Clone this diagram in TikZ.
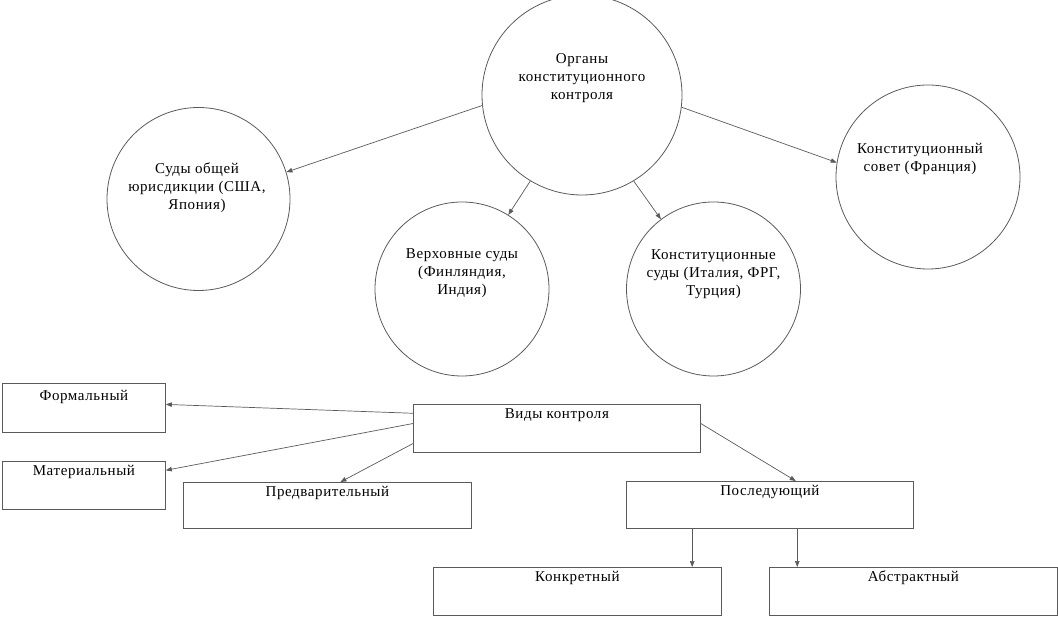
\documentclass[tikz,border=0pt]{standalone}
\usepackage{fontspec}
\setmainfont{Liberation Serif}[LetterSpace=4]
\definecolor{linegray}{RGB}{90,90,90}
\usetikzlibrary{arrows.meta, positioning, calc}

\begin{document}
\begin{tikzpicture}[x=1pt, y=-1pt, >={Triangle[length=6pt,width=4.5pt]},
    every node/.style={font=\fontsize{15}{18}\selectfont},
    organ/.style={draw=linegray, line width=0.8pt, circle, inner sep=0pt},
    lbl/.style={align=center, inner sep=0pt},
    kind/.style={draw=linegray, line width=0.8pt, rectangle, anchor=north west,
                 inner sep=0pt, text height=14pt},
    link/.style={->, draw=linegray, line width=0.7pt}]
      \useasboundingbox (0,0) rectangle (1058,617);
      % Organs of constitutional control
      \node[organ, minimum size=200] (org) at (582,95) {};
      \node[lbl] (orgtxt) at (582,78) {Органы\\конституционного\\контроля};
      \node[organ, minimum size=183] (sud) at (198.5,199) {};
      \node[lbl] (sudtxt) at (197,188) {Суды общей\\юрисдикции (США,\\Япония)};
      \node[organ, minimum size=174] (verh) at (462,289) {};
      \node[lbl] (verhtxt) at (462,273) {Верховные суды\\(Финляндия,\\Индия)};
      \node[organ, minimum size=174] (konst) at (713.5,289) {};
      \node[lbl] (konsttxt) at (713.5,274) {Конституционные\\суды (Италия, ФРГ,\\Турция)};
      \node[organ, minimum size=184] (sovet) at (928,177) {};
      \node[lbl] (sovettxt) at (920,159) {Конституционный\\совет (Франция)};
      \draw[link] (org.186) -- (sud.17);
      \draw[link] (org.239) -- (verh.58);
      \draw[link] (org.301) -- (konst.127);
      \draw[link] (org.353) -- (sovet.171);
      % Kinds of control
      \node[kind, minimum width=163, text height=17pt, text depth=32pt] (formal) at (2,383) {Формальный};
      \node[kind, minimum width=163, text depth=34pt] (mater) at (2,461) {Материальный};
      \node[kind, minimum width=287, text depth=34pt] (vidy) at (413,404) {Виды контроля};
      \node[kind, minimum width=288, text depth=32pt] (pred) at (183,482) {Предварительный};
      \node[kind, minimum width=287, text depth=33pt] (posl) at (626,481) {Последующий};
      \node[kind, minimum width=288, text depth=34pt] (konkr) at (433,567) {Конкретный};
      \node[kind, minimum width=288, text depth=34pt] (abstr) at (769,567) {Абстрактный};
      \draw[link] ($(vidy.north west)!0.19!(vidy.south west)$) -- ($(formal.north east)!0.43!(formal.south east)$);
      \draw[link] ($(vidy.north west)!0.4!(vidy.south west)$) -- ($(mater.north east)!0.19!(mater.south east)$);
      \draw[link] ($(vidy.north west)!0.81!(vidy.south west)$) -- ($(pred.north west)!0.545!(pred.north east)$);
      \draw[link] ($(vidy.north east)!0.4!(vidy.south east)$) -- ($(posl.north west)!0.59!(posl.north east)$);
      \coordinate (lkonkr) at ($(posl.south west)!0.23!(posl.south east)$);
      \coordinate (labstr) at ($(posl.south west)!0.595!(posl.south east)$);
      \draw[link] (lkonkr) -- (lkonkr |- konkr.north);
      \draw[link] (labstr) -- (labstr |- abstr.north);
\end{tikzpicture}
\end{document}
